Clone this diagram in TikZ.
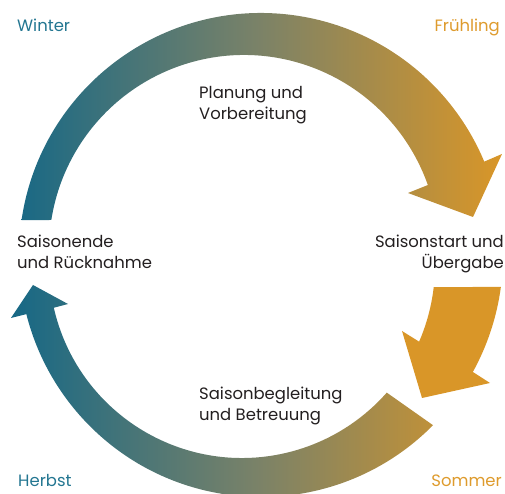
\documentclass[tikz,border=0pt]{standalone}
\usepackage{fontspec}
\setmainfont{Poppins}
\usetikzlibrary{calc}
\definecolor{tealA}{RGB}{22,104,134}
\definecolor{midA}{RGB}{122,130,104}
\definecolor{orngA}{RGB}{217,150,40}
\definecolor{tealT}{RGB}{35,118,145}
\definecolor{orngT}{RGB}{222,155,45}
\definecolor{ink}{RGB}{35,31,32}
\tikzset{
  lbl/.style={font=\fontsize{16.5}{22}\selectfont, text=ink, inner sep=0pt, align=left},
  season/.style={font=\fontsize{16.5}{22}\selectfont, inner sep=0pt},
  ringshade/.style={left color=tealA, right color=orngA, middle color=midA}
}
\begin{document}
\begin{tikzpicture}[x=1bp,y=1bp]
\useasboundingbox (0,0) rectangle (505,494);
% centres of the ring
\coordinate (O) at (261,239);
\coordinate (I1) at (244,244);
\coordinate (I2) at (242,229);
% top arc: winter -> spring
\begin{scope}
\clip ($(O)+(171.7:242)$) arc[start angle=171.7, end angle=22.7, radius=242]
  -- (502,340) -- (473,277) -- (408,301)
  -- ($(I1)+(19.46:195)$) arc[start angle=19.46, end angle=171.15, radius=195] -- cycle;
\shade[ringshade] (11,-10) rectangle (502,500);
\end{scope}
% right arrow: spring -> summer
\fill[orngA] ($(O)+(-7.6:242)$) arc[start angle=-7.6, end angle=-28.9, radius=242]
  -- (490,111) -- (422,96) -- (402,163)
  -- ($(I2)+(-23.4:193)$) arc[start angle=-23.4, end angle=-6.55, radius=193] -- cycle;
% bottom arc: summer -> winter
\begin{scope}
\clip ($(O)+(-44.7:242)$) arc[start angle=-44.7, end angle=-165.85, radius=242]
  -- (11,176) -- (33,209) -- (68,190)
  -- ($(I2)+(-167.2:193)$) arc[start angle=-167.2, end angle=-41.4, radius=193] -- cycle;
\shade[ringshade] (11,-10) rectangle (502,500);
\end{scope}
% season names
\node[season, text=tealT, anchor=base west] (winter) at (17,462) {Winter};
\node[season, text=orngT, anchor=base east] (spring) at (500,462) {Frühling};
\node[season, text=tealT, anchor=base west] (autumn) at (18,7) {Herbst};
\node[season, text=orngT, anchor=base east] (summer) at (502,7) {Sommer};
% phase labels (anchor = baseline of the last line)
\node[lbl, anchor=base west] (plan) at (199,374) {Planung und\\Vorbereitung};
\node[lbl, anchor=base west] (ending) at (17,225) {Saisonende\\und Rücknahme};
\node[lbl, align=right, anchor=base east] (start) at (504,225) {Saisonstart und\\Übergabe};
\node[lbl, anchor=base west] (care) at (199,73) {Saisonbegleitung\\und Betreuung};
\end{tikzpicture}
\end{document}
